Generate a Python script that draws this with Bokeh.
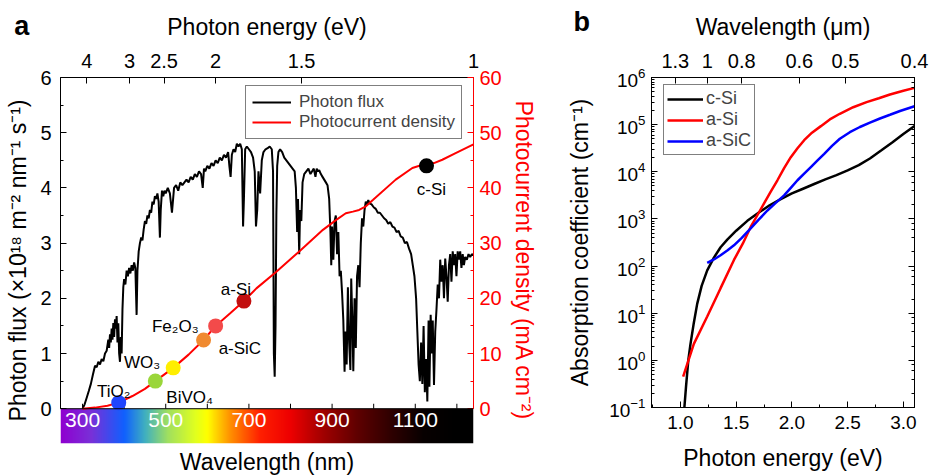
import numpy as np
from bokeh.plotting import figure
from bokeh.layouts import row
from bokeh.models import (Range1d, LinearAxis, LogAxis, FixedTicker, SingleIntervalTicker,
                          CustomJSTickFormatter, Span, LogTicker)
from bokeh.core.properties import value
from bokeh.embed import file_html
from bokeh.resources import INLINE

FONT = "Liberation Sans"

# ---------------- panel a data ----------------
flux_wl = [
    300, 305, 310, 315, 320, 325, 330, 334, 338, 342,
    346, 350, 354, 358, 362, 364, 366, 368, 370, 372,
    374, 376, 378, 380, 382, 384, 386, 388, 390, 392,
    394, 396, 398, 400, 403, 406, 409, 412, 415, 418,
    421, 424, 427, 430, 432, 435, 438, 441, 444, 447,
    450, 453, 456, 459, 462, 465, 468, 471, 474, 477,
    480, 483, 486, 488, 491, 494, 497, 500, 505, 510,
    515, 520, 525, 530, 535, 540, 545, 550, 555, 560,
    565, 570, 575, 580, 585, 589, 592, 595, 600, 605,
    610, 615, 620, 625, 630, 635, 640, 645, 650, 653,
    656, 659, 663, 667, 671, 675, 679, 683, 686, 688,
    691, 695, 700, 705, 710, 714, 717, 720, 723, 727,
    731, 735, 740, 745, 750, 755, 758, 760, 762, 764,
    766, 768, 771, 775, 780, 785, 790, 795, 800, 805,
    810, 813, 816, 818, 821, 823, 826, 829, 833, 838,
    843, 848, 852, 856, 860, 863, 866, 869, 873, 877,
    881, 885, 889, 893, 896, 898, 900, 903, 906, 909,
    912, 915, 918, 921, 924, 927, 930, 932, 935, 938,
    941, 944, 946, 949, 951, 954, 957, 960, 963, 966,
    969, 972, 975, 978, 981, 984, 987, 990, 995, 1000,
    1005, 1010, 1015, 1020, 1025, 1030, 1035, 1040, 1045, 1050,
    1055, 1060, 1065, 1070, 1075, 1080, 1085, 1090, 1094, 1098,
    1102, 1105, 1108, 1111, 1114, 1117, 1120, 1123, 1126, 1129,
    1132, 1134, 1137, 1140, 1142, 1145, 1148, 1151, 1154, 1157,
    1160, 1163, 1166, 1169, 1172, 1175, 1178, 1181, 1184, 1187,
    1190, 1193, 1196, 1199, 1202, 1205, 1208, 1211, 1214, 1217,
    1220, 1224, 1228, 1232, 1236, 1240]
flux_val = [
    0.00, 0.08, 0.20, 0.32, 0.45, 0.62, 0.78, 0.75, 0.85, 0.80,
    0.90, 0.86, 1.00, 1.05, 1.25, 1.10, 1.35, 1.20, 1.45, 1.25,
    1.55, 1.30, 1.62, 1.45, 1.68, 1.20, 1.55, 1.00, 0.85, 1.30,
    1.00, 1.80, 2.20, 2.35, 2.25, 2.50, 2.40, 2.55, 2.45, 2.60,
    2.50, 2.65, 2.55, 1.70, 2.50, 2.85, 3.00, 3.10, 3.05, 3.25,
    3.40, 3.35, 3.50, 3.45, 3.60, 3.55, 3.75, 3.70, 3.85, 3.80,
    3.90, 3.75, 3.10, 3.60, 3.95, 3.85, 3.95, 3.90, 4.00, 3.90,
    3.55, 4.00, 4.05, 3.95, 4.10, 4.05, 4.10, 4.15, 4.10, 4.20,
    4.15, 4.25, 4.20, 4.30, 4.25, 4.00, 4.35, 4.30, 4.40, 4.35,
    4.45, 4.40, 4.50, 4.45, 4.55, 4.50, 4.60, 4.55, 4.65, 4.40,
    4.20, 4.60, 4.70, 4.65, 4.80, 4.75, 4.80, 4.70, 3.30, 3.80,
    4.70, 4.75, 4.70, 4.65, 4.55, 4.30, 3.30, 3.60, 4.30, 3.90,
    4.50, 4.65, 4.70, 4.72, 4.75, 4.70, 4.30, 1.00, 0.58, 1.50,
    3.50, 4.40, 4.65, 4.70, 4.65, 4.55, 4.50, 4.45, 4.40, 4.35,
    4.30, 4.00, 3.20, 3.80, 2.80, 3.60, 3.40, 4.10, 4.25, 4.30,
    4.35, 4.25, 4.30, 4.35, 4.20, 4.35, 4.30, 4.32, 4.25, 4.20,
    4.15, 4.10, 4.05, 3.80, 3.20, 2.60, 3.30, 2.70, 3.40, 3.50,
    2.80, 3.20, 2.40, 2.50, 2.10, 1.60, 0.67, 1.40, 0.80, 2.20,
    1.20, 0.70, 2.36, 1.50, 0.68, 2.00, 1.10, 2.40, 2.60, 2.20,
    3.00, 3.45, 3.30, 3.60, 3.75, 3.70, 3.78, 3.72, 3.70, 3.65,
    3.62, 3.55, 3.55, 3.50, 3.45, 3.42, 3.35, 3.38, 3.30, 3.28,
    3.20, 3.22, 3.12, 3.10, 3.00, 3.02, 2.90, 2.80, 2.60, 2.40,
    2.00, 1.40, 0.80, 0.50, 1.20, 0.45, 1.50, 0.30, 0.90, 0.13,
    1.60, 0.40, 1.70, 1.00, 1.60, 0.43, 1.40, 1.80, 2.25, 2.00,
    2.70, 2.30, 2.60, 2.00, 2.72, 2.40, 1.94, 2.60, 2.80, 2.30,
    2.85, 2.60, 2.80, 2.40, 2.85, 2.70, 2.85, 2.55, 2.80, 2.60,
    2.75, 2.70, 2.80, 2.75, 2.80, 2.78]

pc_wl = [300, 330, 360, 387, 420, 450, 475, 518, 555, 591, 620, 655, 688, 718, 766,
         821, 878, 910, 933, 950, 965, 980, 998, 1053, 1093, 1110, 1128, 1145, 1165, 1197, 1240]
pc_val = [0, 0.2, 0.55, 1.1, 2.3, 3.6, 5.0, 7.4, 9.8, 12.45, 15.0, 17.3, 19.5, 21.8, 24.8,
          28.5, 32.4, 34.2, 35.4, 35.7, 36.0, 36.6, 37.8, 41.5, 43.6, 44.0, 44.2, 44.5, 45.1, 46.3, 47.9]

mat_names = ["TiO₂", "BiVO₄", "WO₃", "Fe₂O₃", "a-SiC", "a-Si", "c-Si"]
mat_wl = [387, 475, 518, 591, 620, 688, 1127]
mat_pc = [1.1, 5.0, 7.4, 12.45, 15.0, 19.5, 44.0]
mat_colors = ["#1f45ff", "#9ad63a", "#ffee00", "#f08a30", "#f34a4a", "#c20e0e", "#000000"]
# label placement (screen offsets, alignment) - style only
mat_dx = [-5, 11, -13, -5, 3, -8, 5]
mat_dy = [-11, 16, -5, -13, 23, -12, 24]
mat_align = ["center", "left", "right", "right", "left", "center", "center"]

energy_ticks = [4, 3, 2.5, 2, 1.5, 1]
wl_label_ticks = [300, 500, 700, 900, 1100]
wl_minor_ticks = [300, 400, 500, 600, 700, 800, 900, 1000, 1100, 1200]

# colour strip stops (wavelength -> rgb)
cb_wl = [247, 320, 400, 450, 505, 570, 600, 655, 727, 800, 880, 960, 1040, 1120, 1200, 1240]
cb_r = [144, 122, 16, 64, 160, 224, 255, 255, 255, 238, 160, 96, 48, 8, 0, 0]
cb_g = [0, 48, 96, 176, 224, 255, 255, 144, 32, 0, 0, 0, 0, 0, 0, 0]
cb_b = [208, 216, 255, 192, 96, 32, 0, 0, 0, 0, 0, 0, 0, 0, 0, 0]

# ---------------- panel b data ----------------
csi_e = [1.035, 1.05, 1.07, 1.09, 1.12, 1.15, 1.19, 1.24, 1.30, 1.36, 1.42, 1.50, 1.60, 1.70,
         1.80, 1.90, 2.00, 2.10, 2.20, 2.30, 2.40, 2.50, 2.60, 2.70, 2.80, 2.90, 3.00, 3.10]
csi_a = [0.1, 0.28, 1.0, 2.24, 6.3, 15.8, 38, 81, 151, 251, 363, 562, 912, 1350,
         1950, 2630, 3470, 4370, 5500, 6920, 8510, 10700, 13800, 19100, 28200, 41700, 63100, 93300]
asi_e = [1.024, 1.12, 1.24, 1.36, 1.48, 1.56, 1.63, 1.70, 1.75, 1.81, 1.87, 1.93, 1.99, 2.05,
         2.11, 2.18, 2.26, 2.34, 2.43, 2.55, 2.67, 2.78, 2.88, 3.0, 3.1]
asi_a = [0.45, 2.24, 8.5, 34, 135, 302, 676, 1320, 2140, 3800, 6610, 12000, 20400, 31600,
         46800, 67600, 93000, 129000, 170000, 234000, 300000, 363000, 437000, 525000, 603000]
asic_e = [1.24, 1.30, 1.36, 1.42, 1.48, 1.55, 1.63, 1.70, 1.78, 1.85, 1.93, 1.99, 2.05, 2.11,
          2.17, 2.23, 2.29, 2.36, 2.43, 2.52, 2.61, 2.70, 2.79, 2.88, 2.97, 3.1]
asic_a = [117, 138, 170, 214, 275, 398, 631, 955, 1510, 2140, 3160, 4570, 6610, 9120,
          12600, 17400, 24000, 35500, 50100, 69200, 89100, 110000, 135000, 162000, 195000, 245000]
um_ticks = [1.3, 1, 0.8, 0.6, 0.5, 0.4]


def style_axis(ax, color="black", tick_size="20px", label_size="23px"):
    ax.axis_line_color = color
    ax.major_tick_line_color = color
    ax.minor_tick_line_color = color
    ax.major_label_text_color = color
    ax.axis_label_text_color = color
    ax.major_label_text_font = FONT
    ax.axis_label_text_font = FONT
    ax.major_label_text_font_size = tick_size
    ax.axis_label_text_font_size = label_size
    ax.axis_label_text_font_style = "normal"
    ax.major_tick_in = 6
    ax.major_tick_out = 0
    ax.minor_tick_in = 3
    ax.minor_tick_out = 0


# ================= panel a =================
pa = figure(frame_width=413, frame_height=366, min_border_left=60, min_border_right=72,
            min_border_top=76, min_border_bottom=34,
            x_range=Range1d(247, 1240), y_range=Range1d(-0.63, 6),
            x_axis_location="above", toolbar_location=None, output_backend="svg",
            outline_line_color=None, background_fill_color="white", border_fill_color="white")
pa.grid.grid_line_color = None
pa.extra_y_ranges = {"pc": Range1d(-6.3, 60)}

top = pa.xaxis[0]
top.ticker = FixedTicker(ticks=[1240.0 / e for e in energy_ticks])
top.formatter = CustomJSTickFormatter(code="return String(Math.round(1240/tick*10)/10);")
top.axis_label = "Photon energy (eV)"
style_axis(top)
top.major_label_standoff = 10
top.axis_label_standoff = 11

left = pa.yaxis[0]
left.ticker = SingleIntervalTicker(interval=1, num_minor_ticks=2)
left.bounds = (0, 6)
left.axis_label = "Photon flux (×10¹⁸ m⁻² nm⁻¹ s⁻¹)"
style_axis(left)
left.major_label_standoff = 9
left.axis_label_standoff = 6

right = LinearAxis(y_range_name="pc", ticker=SingleIntervalTicker(interval=10, num_minor_ticks=2),
                   bounds=(0, 60), axis_label="Photocurrent density (mA cm⁻²)")
style_axis(right, color="red")
right.major_label_standoff = 6
right.axis_label_standoff = 6
pa.add_layout(right, "right")

bottom = LinearAxis(ticker=FixedTicker(ticks=[]), axis_label="Wavelength (nm)")
style_axis(bottom)
bottom.axis_line_color = None
bottom.axis_label_standoff = 5
pa.add_layout(bottom, "below")

# colour strip
N = 993
strip_wl = np.linspace(247, 1240, N)
img = np.zeros((1, N), dtype=np.uint32)
view = img.view(dtype=np.uint8).reshape((1, N, 4))
view[0, :, 0] = np.interp(strip_wl, cb_wl, cb_r).astype(np.uint8)
view[0, :, 1] = np.interp(strip_wl, cb_wl, cb_g).astype(np.uint8)
view[0, :, 2] = np.interp(strip_wl, cb_wl, cb_b).astype(np.uint8)
view[0, :, 3] = 255
pa.image_rgba(image=[img], x=247, y=-0.63, dw=993, dh=0.63)
pa.text(x=wl_label_ticks, y=[-0.2] * len(wl_label_ticks), text=[str(v) for v in wl_label_ticks],
        text_color="white", text_font=value(FONT), text_font_size=value("21px"),
        text_align="center", text_baseline="middle")

pa.add_layout(Span(location=0, dimension="width", line_color="black", line_width=1))
pa.segment(x0=wl_minor_ticks, x1=wl_minor_ticks, y0=[0] * len(wl_minor_ticks),
           y1=[0.09] * len(wl_minor_ticks), line_color="black", line_width=1)

pa.line(flux_wl, flux_val, line_color="black", line_width=2, legend_label="Photon flux")
pa.line(pc_wl, pc_val, y_range_name="pc", line_color="red", line_width=2,
        legend_label="Photocurrent density")
pa.scatter(x=mat_wl, y=mat_pc, y_range_name="pc", size=15, fill_color=mat_colors, line_color=None)
for name, w, j, dx, dy, al in zip(mat_names, mat_wl, mat_pc, mat_dx, mat_dy, mat_align):
    pa.text(x=[w], y=[j], text=[name], y_range_name="pc", x_offset=dx, y_offset=dy,
            text_align=al, text_baseline="alphabetic", text_color="black",
            text_font=value(FONT), text_font_size=value("17px"))

lg = pa.legend[0]
lg.location = (185, 304)
lg.margin = 0
lg.padding = 6
lg.spacing = 0
lg.label_height = 18
lg.glyph_height = 18
lg.glyph_width = 39
lg.label_standoff = 8
lg.label_text_font = FONT
lg.label_text_font_size = "17px"
lg.border_line_color = "black"
lg.border_line_width = 1
lg.background_fill_alpha = 1

# panel letter as text glyph at overlay level (drawn outside the frame)
pa.text(x=[136], y=[6.94], text=["a"], level="overlay", text_color="black",
        text_font=value(FONT), text_font_size=value("27px"), text_font_style="bold",
        text_baseline="alphabetic", text_align="left")

# ================= panel b =================
pb = figure(frame_width=263, frame_height=330, min_border_left=106, min_border_right=18,
            min_border_top=77, min_border_bottom=69,
            x_range=Range1d(0.74, 3.1), y_range=Range1d(0.1, 1e6), y_axis_type="log",
            toolbar_location=None, output_backend="svg",
            outline_line_color="black", background_fill_color="white", border_fill_color="white")
pb.grid.grid_line_color = None

bx = pb.xaxis[0]
bx.ticker = SingleIntervalTicker(interval=0.5, num_minor_ticks=2)
bx.formatter = CustomJSTickFormatter(code="return tick.toFixed(1);")
bx.axis_label = "Photon energy (eV)"
style_axis(bx, tick_size="19px")
bx.major_label_standoff = 8
bx.axis_label_standoff = 13

by = pb.yaxis[0]
by.axis_label = "Absorption coefficient (cm⁻¹)"
style_axis(by, tick_size="19px")
by.major_label_standoff = 6
by.axis_label_standoff = 13

tb = LinearAxis(ticker=FixedTicker(ticks=[1.24 / u for u in um_ticks]),
                formatter=CustomJSTickFormatter(code="return String(Math.round(1.24/tick*10)/10);"),
                axis_label="Wavelength (μm)")
style_axis(tb)
tb.major_label_standoff = 10
tb.axis_label_standoff = 11
pb.add_layout(tb, "above")

rb = LogAxis(ticker=LogTicker(), formatter=CustomJSTickFormatter(code="return '';"))
style_axis(rb)
rb.major_label_standoff = 0
pb.add_layout(rb, "right")

pb.line(csi_e, csi_a, line_color="black", line_width=2.5, legend_label="c-Si")
pb.line(asi_e, asi_a, line_color="red", line_width=2.5, legend_label="a-Si")
pb.line(asic_e, asic_a, line_color="blue", line_width=2.5, legend_label="a-SiC")

lb = pb.legend[0]
lb.location = (12, 252)
lb.margin = 0
lb.padding = 3
lb.spacing = 0
lb.label_height = 20
lb.glyph_height = 20
lb.glyph_width = 36
lb.label_standoff = 3
lb.label_text_font = FONT
lb.label_text_font_size = "18px"
lb.border_line_color = "black"
lb.border_line_width = 1

pb.text(x=[0.04], y=[1.54e7], text=["b"], level="overlay", text_color="black",
        text_font=value(FONT), text_font_size=value("27px"), text_font_style="bold",
        text_baseline="alphabetic", text_align="left")

layout = row(pa, pb)
open("out.html", "w").write(file_html(layout, INLINE))
